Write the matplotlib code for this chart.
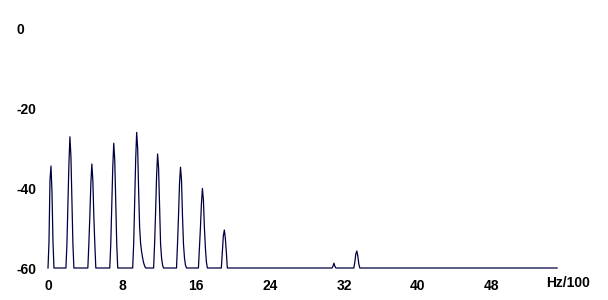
import numpy as np
import matplotlib
matplotlib.use('Agg')
import matplotlib.pyplot as plt

# spectrum: 512 bins, 10.77 Hz each, shown in Hz/100, clipped at -60 dB
n_bins = 512
bin_width = 0.1077
floor_db = -60.0

# bins that rise above the floor (start bin + dB values)
peak_starts = [0, 18, 40, 62, 85, 106, 129, 151, 174, 285, 307]
peak_shapes = [
    [-60, -53.5, -38, -34.5, -41, -53.5, -60],
    [-60, -54, -44, -34, -27.2, -32, -43, -54, -60],
    [-60, -54, -47, -39, -34, -38, -47, -54, -60],
    [-60, -54, -45, -35, -28.8, -33, -44, -54, -60],
    [-60, -54, -44, -33, -26.1, -30, -41, -50, -54, -56, -57.5, -58.7, -59.5, -60],
    [-60, -54, -46, -37, -31.5, -35, -45, -54, -57.5, -59.3, -60],
    [-60, -54, -47, -39, -34.8, -38, -47, -54, -57.5, -59.3, -60],
    [-60, -55, -50, -44, -40.1, -43, -50, -55, -58.5, -60],
    [-60, -56, -52, -50.5, -52.5, -56, -60],
    [-60, -59.6, -58.8, -59.6, -60],
    [-60, -58.5, -56.5, -55.75, -57, -59, -60],
]

x_ticks = [0, 8, 16, 24, 32, 40, 48]
y_ticks = [0, -20, -40, -60]
x_unit = 'Hz/100'

spectrum = np.full(n_bins, floor_db)
for start, shape in zip(peak_starts, peak_shapes):
    spectrum[start:start + len(shape)] = shape
freq = np.arange(n_bins) * bin_width

plt.rcParams['font.family'] = ['Liberation Sans', 'DejaVu Sans']
plt.rcParams['font.weight'] = 'bold'
plt.rcParams['font.size'] = 10

fig = plt.figure(figsize=(6.08, 3.0), dpi=100)
ax = fig.add_axes([48 / 608, 32 / 300, 9.25 * 55 / 608, 240 / 300])

ax.plot(freq, spectrum, color='#000040', lw=0.9, clip_on=False)

ax.set_xlim(0, 55)
ax.set_ylim(-60, 0)
for s in ax.spines.values():
    s.set_visible(False)

ax.set_xticks(x_ticks)
ax.set_xticklabels([str(t) for t in x_ticks])
ax.set_yticks(y_ticks)
ax.set_yticklabels([str(t) for t in y_ticks])
ax.tick_params(axis='y', length=0, pad=23)
ax.tick_params(axis='x', length=0, pad=8)
plt.setp(ax.get_yticklabels(), ha='left')

ax.text(56.2, -0.064, x_unit, transform=ax.get_xaxis_transform(),
        ha='center', va='center', fontweight='bold')

fig.savefig('out.png', dpi=100, facecolor='white')
